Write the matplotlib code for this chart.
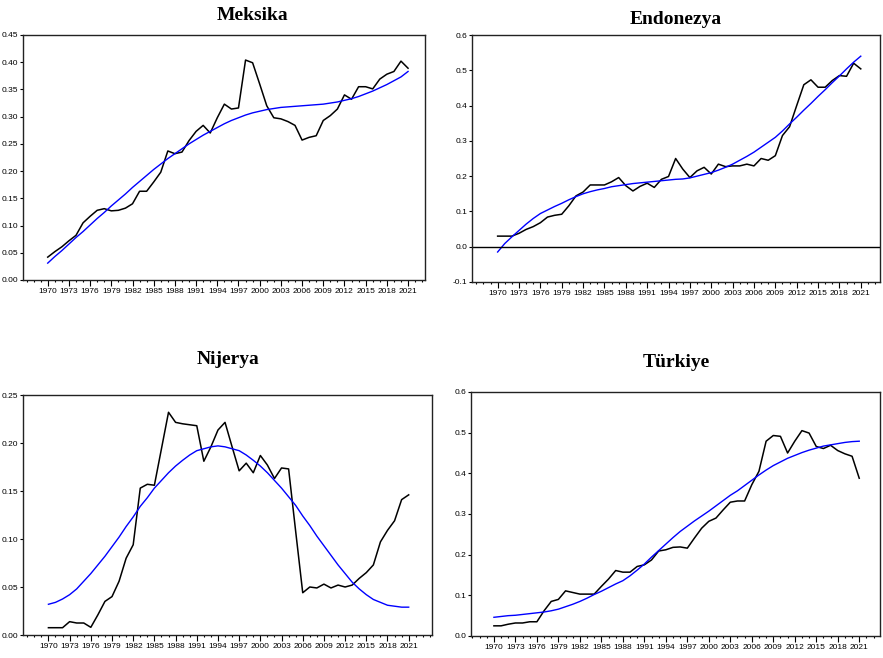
import matplotlib
matplotlib.use("Agg")
import matplotlib.pyplot as plt
from matplotlib.ticker import MultipleLocator, FixedLocator

years = list(range(1970, 2022))

# Meksika: observed series and smoothed trend
mex_obs = [0.042, 0.052, 0.061, 0.072, 0.082, 0.105, 0.117, 0.128, 0.131, 0.127,
           0.128, 0.132, 0.140, 0.163, 0.163, 0.180, 0.198, 0.237, 0.232, 0.235,
           0.256, 0.273, 0.284, 0.270, 0.298, 0.323, 0.314, 0.316, 0.404, 0.399,
           0.360, 0.320, 0.298, 0.296, 0.291, 0.284, 0.257, 0.262, 0.265, 0.293,
           0.302, 0.314, 0.340, 0.332, 0.355, 0.355, 0.351, 0.369, 0.378, 0.383,
           0.402, 0.389]
mex_trend = [0.031, 0.043, 0.054, 0.066, 0.078, 0.089, 0.101, 0.113, 0.124, 0.136,
             0.147, 0.158, 0.170, 0.181, 0.192, 0.203, 0.213, 0.223, 0.232, 0.241,
             0.250, 0.258, 0.266, 0.273, 0.280, 0.287, 0.293, 0.298, 0.303, 0.307,
             0.310, 0.313, 0.315, 0.317, 0.318, 0.319, 0.320, 0.321, 0.322, 0.323,
             0.325, 0.327, 0.330, 0.333, 0.337, 0.342, 0.347, 0.353, 0.359, 0.366,
             0.373, 0.383]

# Endonezya
idn_obs = [0.030, 0.030, 0.030, 0.038, 0.049, 0.057, 0.068, 0.084, 0.089, 0.092,
           0.116, 0.144, 0.155, 0.175, 0.175, 0.175, 0.184, 0.196, 0.173, 0.158,
           0.171, 0.180, 0.168, 0.191, 0.199, 0.250, 0.220, 0.196, 0.215, 0.225,
           0.206, 0.234, 0.227, 0.229, 0.229, 0.234, 0.229, 0.250, 0.245, 0.258,
           0.315, 0.340, 0.400, 0.459, 0.473, 0.452, 0.452, 0.471, 0.485, 0.483,
           0.520, 0.504]
idn_trend = [-0.015, 0.009, 0.028, 0.046, 0.064, 0.080, 0.094, 0.104, 0.114, 0.123,
             0.133, 0.142, 0.150, 0.156, 0.161, 0.165, 0.170, 0.173, 0.176, 0.179,
             0.181, 0.183, 0.185, 0.187, 0.189, 0.191, 0.192, 0.195, 0.200, 0.205,
             0.210, 0.217, 0.225, 0.234, 0.245, 0.256, 0.268, 0.282, 0.296, 0.310,
             0.328, 0.348, 0.367, 0.387, 0.406, 0.426, 0.445, 0.465, 0.484, 0.504,
             0.523, 0.540]

# Nijerya
nga_obs = [0.0076, 0.0076, 0.0076, 0.0139, 0.0125, 0.0125, 0.0080, 0.021, 0.035, 0.040,
           0.056, 0.080, 0.094, 0.153, 0.157, 0.156, 0.194, 0.232, 0.2215, 0.220,
           0.219, 0.218, 0.181, 0.196, 0.2135, 0.2215, 0.196, 0.171, 0.179, 0.169,
           0.187, 0.177, 0.163, 0.174, 0.173, 0.108, 0.044, 0.050, 0.049, 0.053,
           0.049, 0.052, 0.050, 0.052, 0.059, 0.065, 0.073, 0.097, 0.109, 0.119,
           0.141, 0.146]
nga_trend = [0.032, 0.034, 0.0375, 0.042, 0.048, 0.056, 0.064, 0.073, 0.082, 0.092,
             0.102, 0.113, 0.123, 0.134, 0.143, 0.153, 0.161, 0.169, 0.176, 0.182,
             0.1875, 0.192, 0.194, 0.196, 0.197, 0.196, 0.194, 0.192, 0.1875, 0.182,
             0.176, 0.169, 0.161, 0.153, 0.144, 0.135, 0.124, 0.114, 0.103, 0.093,
             0.083, 0.073, 0.064, 0.055, 0.048, 0.042, 0.037, 0.034, 0.031, 0.030,
             0.029, 0.029]

# Türkiye
tur_obs = [0.025, 0.025, 0.029, 0.032, 0.032, 0.035, 0.035, 0.062, 0.085, 0.090,
           0.111, 0.107, 0.103, 0.103, 0.103, 0.122, 0.140, 0.161, 0.157, 0.157,
           0.171, 0.175, 0.187, 0.209, 0.212, 0.218, 0.219, 0.216, 0.241, 0.265,
           0.282, 0.290, 0.310, 0.329, 0.332, 0.332, 0.372, 0.405, 0.479, 0.493,
           0.491, 0.450, 0.479, 0.505, 0.499, 0.466, 0.461, 0.469, 0.456, 0.448,
           0.442, 0.388]
tur_trend = [0.046, 0.048, 0.050, 0.051, 0.053, 0.055, 0.057, 0.059, 0.062, 0.066,
             0.072, 0.078, 0.085, 0.093, 0.102, 0.110, 0.119, 0.128, 0.136, 0.148,
             0.162, 0.177, 0.194, 0.210, 0.226, 0.242, 0.257, 0.270, 0.283, 0.295,
             0.307, 0.320, 0.333, 0.346, 0.357, 0.370, 0.383, 0.396, 0.408, 0.419,
             0.428, 0.437, 0.444, 0.451, 0.457, 0.462, 0.467, 0.470, 0.473, 0.476,
             0.478, 0.479]

titles = ["Meksika", "Endonezya", "Nijerya", "Türkiye"]
obs_series = [mex_obs, idn_obs, nga_obs, tur_obs]
trend_series = [mex_trend, idn_trend, nga_trend, tur_trend]
y_ranges = [(0.0, 0.45, 0.05, "{:.2f}"), (-0.1, 0.6, 0.1, "{:.1f}"),
            (0.0, 0.25, 0.05, "{:.2f}"), (0.0, 0.6, 0.1, "{:.1f}")]
xtick_years = list(range(1970, 2022, 3))

W, H = 883, 658
fig = plt.figure(figsize=(W / 100, H / 100), dpi=100)

# axes boxes in pixels: left, right, top, bottom; plus x limits
boxes = [(23, 425, 35, 280, 1966.5, 2023.4),
         (472, 880, 35, 282, 1966.4, 2023.7),
         (23, 432, 395, 635, 1966.4, 2024.3),
         (471, 880, 392, 636, 1966.8, 2023.9)]
title_pos = [(252, 15), (676, 20), (228, 359), (676, 362)]

tick_font = dict(family=["Liberation Sans Narrow", "Liberation Sans", "DejaVu Sans"],
                 size=6)

for i in range(4):
    l, r, t, b, x0, x1 = boxes[i]
    ax = fig.add_axes([l / W, 1 - b / H, (r - l) / W, (b - t) / H])
    ax.plot(years, obs_series[i], color="black", lw=1.1)
    ax.plot(years, trend_series[i], color="#0000ff", lw=1.0)
    ymin, ymax, step, fmt = y_ranges[i]
    if ymin < 0:
        ax.axhline(0, color="black", lw=1.0)
    ax.set_xlim(x0, x1)
    ax.set_ylim(ymin, ymax)
    ax.xaxis.set_major_locator(FixedLocator(xtick_years))
    ax.xaxis.set_minor_locator(MultipleLocator(1))
    n = int(round((ymax - ymin) / step))
    yt = [ymin + k * step for k in range(n + 1)]
    ax.set_yticks(yt)
    ax.set_yticklabels([fmt.format(v + 0.0) for v in yt], **tick_font)
    ax.set_xticklabels([str(y) for y in xtick_years], **tick_font)
    ax.tick_params(axis="x", which="major", direction="out", length=4, width=0.8, pad=2)
    ax.tick_params(axis="x", which="minor", direction="out", length=1.5, width=0.8)
    ax.tick_params(axis="y", which="major", direction="out", length=2, width=0.8, pad=1.5)
    for s in ax.spines.values():
        s.set_linewidth(1.0)
        s.set_color("#222222")
    tx, ty = title_pos[i]
    fig.text(tx / W, 1 - ty / H, titles[i], ha="center", va="center",
             family="Liberation Serif", weight="bold", size=14)

fig.savefig("out.png", dpi=100)
